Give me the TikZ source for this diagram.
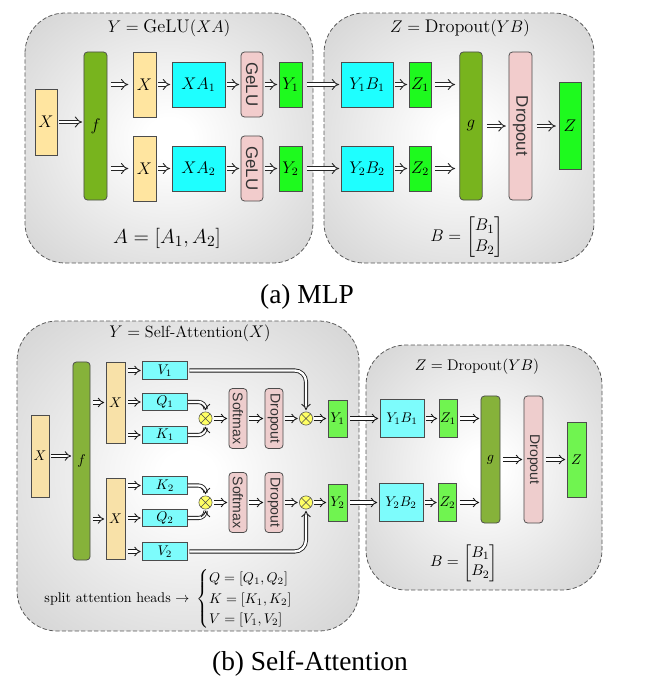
\documentclass[tikz,border=0pt]{standalone}
\usepackage{amsmath}
\usepackage{graphicx}
\usepackage{fontspec}
\usepackage{tikz}
\usetikzlibrary{arrows.meta, positioning}
\newfontfamily\capfont{Liberation Serif}
\newfontfamily\lblfont{Liberation Sans}
\newcommand{\fsz}[2]{\fontsize{#1}{#2}\selectfont}
\newcommand{\vlbl}[1]{{\lblfont\color{black!80}\rotatebox{-90}{#1}}}
\definecolor{MLPYellow}{RGB}{255,229,160}
\definecolor{MLPGreen}{RGB}{120,180,30}
\definecolor{MLPCyan}{RGB}{30,255,255}
\definecolor{MLPPink}{RGB}{242,204,204}
\definecolor{MLPLime}{RGB}{30,250,30}
\definecolor{SAYellow}{RGB}{248,225,168}
\definecolor{SAGreen}{RGB}{134,178,58}
\definecolor{SACyan}{RGB}{125,252,252}
\definecolor{SAPink}{RGB}{238,205,205}
\definecolor{SALime}{RGB}{112,244,80}
\definecolor{SAMul}{RGB}{255,255,100}
\pgfdeclareradialshading{panelshade}{\pgfpoint{0bp}{0bp}}{%
  color(0bp)=(white); color(4bp)=(white); color(50bp)=(black!25); color(71bp)=(black!34)}

\begin{document}
\begin{tikzpicture}[x=0.025cm, y=-0.025cm,
    panel/.style={draw=black!65, dash pattern=on 3pt off 1.6pt, line width=0.55pt,
                  rounded corners=1cm, shading=panelshade, shade},
    blk/.style={draw=black!70, line width=0.55pt, inner sep=0pt},
    sz/.style 2 args={minimum width=#1cm, minimum height=#2cm},
    sq/.style={blk, fill=#1},
    rnd/.style={blk, fill=#1, rounded corners=2.5pt},
    mul/.style={circle, draw=black!70, fill=SAMul, minimum size=0.33cm, inner sep=0pt,
                path picture={\draw[black!70, line width=0.45pt]
                  (path picture bounding box.north west) -- (path picture bounding box.south east)
                  (path picture bounding box.north east) -- (path picture bounding box.south west);}},
    dar/.style={draw=black!85, line width=0.65pt, double=white, double distance=2.1pt,
                -{Implies}, shorten <=1pt, shorten >=1pt}
  ]
  \useasboundingbox (0,0) rectangle (657,680);

  % (a) MLP
  \draw[panel] (25,13) rectangle (313,263);
  \draw[panel] (324,13) rectangle (594,263);
  \node[font=\fsz{13}{15}] (ttlY) at (169,28) {$Y=\mathrm{GeLU}(XA)$};
  \node[font=\fsz{13}{15}] (ttlZ) at (460,28) {$Z=\mathrm{Dropout}(YB)$};

  \begin{scope}[font=\fsz{12}{14}]
    \node[sq=MLPYellow, sz={0.55}{1.65}]   (xin) at (46,122)    {$X$};
    \node[rnd=MLPGreen, sz={0.575}{3.7}]   (f)   at (95.5,126)  {$f$};
    \node[sq=MLPYellow, sz={0.575}{1.625}] (xa)  at (144.5,84.5) {$X$};
    \node[sq=MLPYellow, sz={0.575}{1.625}] (xb)  at (144.5,168.5) {$X$};
    \node[sq=MLPCyan, sz={1.325}{1.125}]   (xa1) at (198.5,84.5) {$XA_1$};
    \node[sq=MLPCyan, sz={1.325}{1.125}]   (xa2) at (198.5,168.5) {$XA_2$};
    \node[rnd=MLPPink, sz={0.55}{1.625}]   (gl1) at (252,84.5)  {\vlbl{GeLU}};
    \node[rnd=MLPPink, sz={0.55}{1.625}]   (gl2) at (252,168.5) {\vlbl{GeLU}};
    \node[sq=MLPLime, sz={0.575}{1.125}]   (y1)  at (290.5,84.5) {$Y_1$};
    \node[sq=MLPLime, sz={0.575}{1.125}]   (y2)  at (290.5,168.5) {$Y_2$};

    \node[sq=MLPCyan, sz={1.3}{1.125}]     (yb1) at (367,84.5)  {$Y_1B_1$};
    \node[sq=MLPCyan, sz={1.3}{1.125}]     (yb2) at (367,168.5) {$Y_2B_2$};
    \node[sq=MLPLime, sz={0.55}{1.125}]    (z1)  at (420,84.5)  {$Z_1$};
    \node[sq=MLPLime, sz={0.55}{1.125}]    (z2)  at (420,168.5) {$Z_2$};
    \node[rnd=MLPGreen, sz={0.56}{3.7}]    (g)   at (471,126)   {$g$};
    \node[rnd=MLPPink, sz={0.575}{3.7}]    (drp) at (520.5,126) {\vlbl{Dropout}};
    \node[sq=MLPLime, sz={0.55}{2.175}]    (z)   at (570,126)   {$Z$};
  \end{scope}

  \node[font=\fsz{15.5}{18}] (eqA) at (167,238) {$A=[A_1,A_2]$};
  \node[font=\fsz{12.5}{15}] (eqB) at (467,237)
        {$B=\begin{bmatrix}B_1\\B_2\end{bmatrix}$};

  \draw[dar] (xin.east) -- (xin -| f.west);
  \draw[dar, shorten <=2.5pt, shorten >=3pt] (f.east |- xa) -- (xa.west);
  \draw[dar, shorten <=2.5pt, shorten >=3pt] (f.east |- xb) -- (xb.west);
  \draw[dar] (xa) -- (xa1);
  \draw[dar] (xb) -- (xa2);
  \draw[dar] (xa1) -- (gl1);
  \draw[dar] (xa2) -- (gl2);
  \draw[dar] (gl1) -- (y1);
  \draw[dar] (gl2) -- (y2);
  \draw[dar, shorten <=3pt] (y1) -- (yb1);
  \draw[dar, shorten <=3pt] (y2) -- (yb2);
  \draw[dar] (yb1) -- (z1);
  \draw[dar] (yb2) -- (z2);
  \draw[dar, shorten <=2.5pt, shorten >=3pt] (z1.east) -- (z1 -| g.west);
  \draw[dar, shorten <=2.5pt, shorten >=3pt] (z2.east) -- (z2 -| g.west);
  \draw[dar, shorten <=3pt, shorten >=2pt] (g) -- (drp);
  \draw[dar, shorten <=3pt, shorten >=2pt] (drp) -- (z);

  \node[font=\capfont\fsz{19.5}{22}] (capA) at (307,297) {(a) MLP};

  % (b) Self-Attention
  \draw[panel] (17,321) rectangle (359,631);
  \draw[panel] (366,345) rectangle (602,590);
  \node[font=\fsz{11.5}{14}] (ttlSA) at (190,333) {$Y=\mathrm{Self\text{-}Attention}(X)$};
  \node[font=\fsz{11}{13}] (ttlSZ) at (477,367) {$Z=\mathrm{Dropout}(YB)$};

  \begin{scope}[font=\fsz{10}{12}, dar/.append style={draw=black!90, line width=0.6pt, double distance=1.7pt}]
    \node[sq=SAYellow, sz={0.45}{2.05}]   (sxin) at (40,456)    {$X$};
    \node[rnd=SAGreen, sz={0.43}{4.95}]   (sf)   at (81.5,461)  {$f$};
    \node[sq=SAYellow, sz={0.475}{2.025}] (sxa)  at (115.5,402.5) {$X$};
    \node[sq=SAYellow, sz={0.475}{2.025}] (sxb)  at (115.5,519) {$X$};
    \node[sq=SACyan, sz={1.125}{0.44}]    (v1)   at (165,370.5) {$V_1$};
    \node[sq=SACyan, sz={1.125}{0.44}]    (q1)   at (165,402)   {$Q_1$};
    \node[sq=SACyan, sz={1.125}{0.44}]    (k1)   at (165,435)   {$K_1$};
    \node[sq=SACyan, sz={1.125}{0.44}]    (k2)   at (165,485.5) {$K_2$};
    \node[sq=SACyan, sz={1.125}{0.44}]    (q2)   at (165,518)   {$Q_2$};
    \node[sq=SACyan, sz={1.125}{0.44}]    (v2)   at (165,551.5) {$V_2$};
    \node[mul] (ma) at (205.5,418.5) {};
    \node[mul] (mb) at (205.5,502.5) {};
    \node[rnd=SAPink, sz={0.45}{1.5}]     (smx1) at (238,418.5) {\fsz{10}{12}\vlbl{Softmax}};
    \node[rnd=SAPink, sz={0.45}{1.5}]     (smx2) at (238,502.5) {\fsz{10}{12}\vlbl{Softmax}};
    \node[rnd=SAPink, sz={0.45}{1.5}]     (sd1)  at (274,418.5) {\fsz{10}{12}\vlbl{Dropout}};
    \node[rnd=SAPink, sz={0.45}{1.5}]     (sd2)  at (274,502.5) {\fsz{10}{12}\vlbl{Dropout}};
    \node[mul] (mc) at (306,418.5) {};
    \node[mul] (md) at (306,502.5) {};
    \node[sq=SALime, sz={0.475}{0.925}]   (sy1)  at (337.5,418.5) {$Y_1$};
    \node[sq=SALime, sz={0.475}{0.925}]   (sy2)  at (337.5,502.5) {$Y_2$};

    \node[sq=SACyan, sz={1.1}{0.95}]      (syb1) at (402,418.5) {$Y_1B_1$};
    \node[sq=SACyan, sz={1.1}{0.95}]      (syb2) at (401,502.5) {$Y_2B_2$};
    \node[sq=SALime, sz={0.45}{0.95}]     (sz1)  at (448,418.5) {$Z_1$};
    \node[sq=SALime, sz={0.45}{0.95}]     (sz2)  at (447.5,502.5) {$Z_2$};
    \node[rnd=SAGreen, sz={0.475}{3.175}] (sg)   at (490.5,459.5) {$g$};
    \node[rnd=SAPink, sz={0.475}{3.175}]  (sdrp) at (533.5,459.5) {\fsz{10}{12}\vlbl{Dropout}};
    \node[sq=SALime, sz={0.475}{1.875}]   (sz)   at (576.5,459.5) {$Z$};

    \draw[dar] (sxin.east) -- (sxin -| sf.west);
    \draw[dar, shorten <=2pt] (sf.east |- sxa) -- (sxa.west);
    \draw[dar, shorten <=2pt] (sf.east |- sxb) -- (sxb.west);
    \draw[dar, shorten <=2pt] (sxa.east |- v1) -- (v1.west);
    \draw[dar, shorten <=2pt] (sxa.east |- q1) -- (q1.west);
    \draw[dar, shorten <=2pt] (sxa.east |- k1) -- (k1.west);
    \draw[dar, shorten <=2pt] (sxb.east |- k2) -- (k2.west);
    \draw[dar, shorten <=2pt] (sxb.east |- q2) -- (q2.west);
    \draw[dar, shorten <=2pt] (sxb.east |- v2) -- (v2.west);
    \draw[dar, rounded corners=5pt, shorten <=0pt] (q1.east) -| (ma.north);
    \draw[dar, rounded corners=5pt, shorten <=0pt] (k1.east) -| (ma.south);
    \draw[dar, rounded corners=5pt, shorten <=0pt] (k2.east) -| (mb.north);
    \draw[dar, rounded corners=5pt, shorten <=0pt] (q2.east) -| (mb.south);
    \draw[dar, rounded corners=8pt] (v1.east) -| (mc.north);
    \draw[dar, rounded corners=8pt] (v2.east) -| (md.south);
    \draw[dar] (ma) -- (smx1);
    \draw[dar] (mb) -- (smx2);
    \draw[dar] (smx1) -- (sd1);
    \draw[dar] (smx2) -- (sd2);
    \draw[dar] (sd1) -- (mc);
    \draw[dar] (sd2) -- (md);
    \draw[dar] (mc) -- (sy1);
    \draw[dar] (md) -- (sy2);
    \draw[dar, shorten <=2pt] (sy1) -- (syb1);
    \draw[dar, shorten <=2pt] (sy2) -- (syb2);
    \draw[dar] (syb1) -- (sz1);
    \draw[dar] (syb2) -- (sz2);
    \draw[dar, shorten <=2pt] (sz1.east) -- (sz1 -| sg.west);
    \draw[dar, shorten <=2pt] (sz2.east) -- (sz2 -| sg.west);
    \draw[dar, shorten <=2pt] (sg) -- (sdrp);
    \draw[dar, shorten <=2pt] (sdrp) -- (sz);
  \end{scope}

  \node[font=\fsz{10}{12}] (heads) at (117,599) {split attention heads $\rightarrow$};
  \node[font=\fsz{10}{12}, right=-2pt of heads] (qkv)
        {$\begin{cases}Q=[Q_1,Q_2]\\K=[K_1,K_2]\\V=[V_1,V_2]\end{cases}$};
  \node[font=\fsz{11}{13}] (eqSB) at (464,563)
        {$B=\begin{bmatrix}B_1\\B_2\end{bmatrix}$};

  \node[font=\capfont\fsz{19.5}{22}] (capB) at (310,664) {(b) Self-Attention};
\end{tikzpicture}
\end{document}
